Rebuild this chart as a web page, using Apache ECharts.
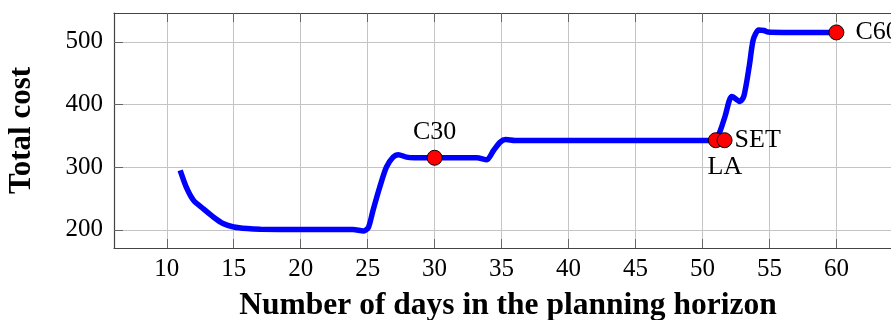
<!DOCTYPE html>
<html>
<head>
<meta charset="utf-8">
<script src="https://cdn.jsdelivr.net/npm/echarts@6/dist/echarts.min.js"></script>
<style>
  html, body { margin: 0; padding: 0; background: #fff; }
  #chart { width: 891px; height: 320px; }
</style>
</head>
<body>
<div id="chart"></div>
<script>
// Total cost against the length of the planning horizon (days)
const days = [11, 11.5, 12, 12.7, 13.5, 14.2, 15, 16, 17, 20, 23.9, 24.7, 25.06, 25.4, 25.9, 26.4, 26.9, 27.3, 27.9, 28.5,
  33.15, 33.9, 34.4, 34.9, 35.3, 36, 50.7, 51.0, 51.2, 51.7, 52.0, 52.2, 52.8, 53.1, 53.5, 53.8, 54.2, 54.6, 54.9, 56, 60];
const totalCost = [295, 266, 247, 234, 220, 210, 204.5, 202, 201, 200.5, 200.5, 198, 204, 231, 268, 300, 316, 320, 316, 315,
  315, 311.7, 326.6, 340, 344, 342.5, 342.5, 343, 350.5, 382, 406, 412.6, 404.6, 414, 462, 504, 519, 518, 515.5, 515, 515];

// Highlighted solutions
const markerNames = ['C30', 'LA', 'SET', 'C60'];
const markerDays = [30, 51, 51.65, 60];
const markerCost = [315, 343, 343, 515];

// Axis ticks
const xTicks = [10, 15, 20, 25, 30, 35, 40, 45, 50, 55, 60];
const yTicks = [200, 300, 400, 500];

const FONT = 'Liberation Serif';

const markerLabel = {
  C30: { position: 'top', distance: 5 },
  LA:  { position: 'bottom', distance: 6, offset: [9, 0] },
  SET: { position: 'right', distance: 2 },
  C60: { position: 'right', distance: 11 }
};

const chart = echarts.init(document.getElementById('chart'), null, { renderer: 'canvas' });

const lineData = days.map((d, i) => [d, totalCost[i]]);
const markerData = markerNames.map((n, i) => ({
  name: n,
  value: [markerDays[i], markerCost[i]],
  label: Object.assign({
    show: true, formatter: n, fontFamily: FONT, fontSize: 26, color: '#000'
  }, markerLabel[n])
}));

const frameLine = { show: true, onZero: false, lineStyle: { color: '#444', width: 1.2 } };
const tickStyle = { lineStyle: { color: '#666', width: 1 } };

chart.setOption({
  animation: false,
  // the plot box runs a little past the right edge of the page
  grid: { left: 114, top: 13, width: 788, height: 235, containLabel: false, outerBoundsMode: 'none' },
  xAxis: [
    {
      type: 'value', position: 'bottom', min: 6.06, max: 64.9,
      axisLine: frameLine,
      axisTick: Object.assign({ show: true, inside: true, length: 9, customValues: xTicks }, tickStyle),
      axisLabel: { show: true, customValues: xTicks, margin: 9, fontFamily: FONT, fontSize: 25, color: '#000' },
      splitLine: { show: true, lineStyle: { color: '#c4c4c4', width: 1 } },
      name: 'Number of days in the planning horizon',
      nameLocation: 'middle', nameGap: 42,
      nameTextStyle: { fontFamily: FONT, fontWeight: 'bold', fontSize: 31.5, color: '#000' }
    },
    {
      type: 'value', position: 'top', min: 6.06, max: 64.9,
      axisLine: frameLine,
      axisTick: Object.assign({ show: true, inside: true, length: 9, customValues: xTicks }, tickStyle),
      axisLabel: { show: false },
      splitLine: { show: false }
    }
  ],
  yAxis: {
    type: 'value', min: 171, max: 546,
    axisLine: frameLine,
    axisTick: Object.assign({ show: true, inside: true, length: 9, customValues: yTicks }, tickStyle),
    axisLabel: { show: true, customValues: yTicks, margin: 11, fontFamily: FONT, fontSize: 25, color: '#000' },
    splitLine: { show: true, lineStyle: { color: '#c4c4c4', width: 1 } },
    name: 'Total cost',
    nameLocation: 'middle', nameGap: 77, nameRotate: 90,
    nameTextStyle: { fontFamily: FONT, fontWeight: 'bold', fontSize: 31, color: '#000' }
  },
  series: [
    {
      type: 'line',
      xAxisIndex: 0,
      data: lineData,
      smooth: 0.25,
      showSymbol: false,
      lineStyle: { color: '#0000ff', width: 5.5 },
      z: 2
    },
    {
      type: 'scatter',
      xAxisIndex: 0,
      data: markerData,
      symbol: 'circle',
      symbolSize: 15,
      itemStyle: { color: '#ff0000', borderColor: '#000', borderWidth: 1, opacity: 1 },
      z: 3
    }
  ]
});
</script>
</body>
</html>
